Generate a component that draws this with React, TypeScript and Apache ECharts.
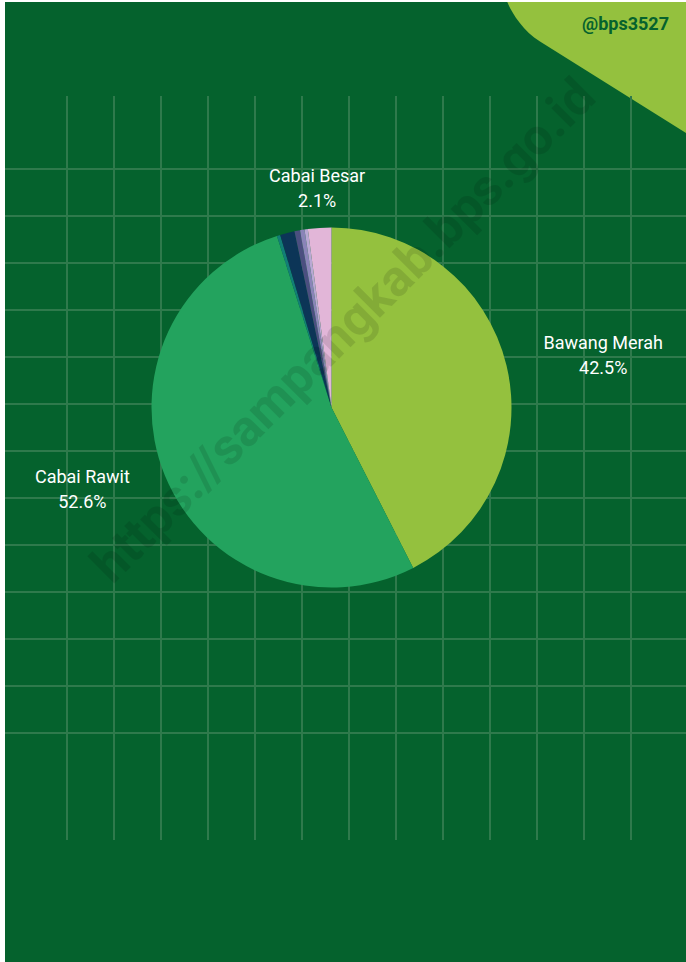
import React, { useEffect, useRef } from 'react';
import * as echarts from 'echarts';

// ---- data ----
const categories = ['Bawang Merah', 'Cabai Rawit', 'Kacang Panjang', 'Terung', 'Tomat', 'Kangkung', 'Bayam', 'Cabai Besar'];
const values = [42.5, 52.6, 0.3, 1.3, 0.5, 0.4, 0.3, 2.1];
const labeledCategories = ['Bawang Merah', 'Cabai Rawit', 'Cabai Besar'];
const gridColumnTicks = [0, 1, 2, 3, 4, 5, 6, 7, 8, 9, 10, 11, 12];
const gridRowTicks = [0, 1, 2, 3, 4, 5, 6, 7, 8, 9, 10, 11, 12];
const handle = '@bps3527';
const watermark = 'https://sampangkab.bps.go.id';

// ---- styles ----
const sliceColors = ['#94c13e', '#23a35e', '#127e77', '#0c3557', '#4b4f80', '#8a84b8', '#b9a8d4', '#e2b6d8'];
const BG = '#05622d';
const LINE = '#2f7a4c';
const W = 681;
const H = 960;
const CX = 326.5;
const CY = 405.5;
const R = 180;
const LABEL_GAP = 38;

const cornerPath = 'M 502.3 0 C 506.3 10 518 29 535 39.5 L 681 131 L 681 0 Z';
echarts.graphic.registerShape('corner', echarts.graphic.extendPath(cornerPath, {}) as any);

export default function App() {
  const ref = useRef<HTMLDivElement>(null);

  useEffect(() => {
    if (!ref.current) return;
    const chart = echarts.init(ref.current, undefined, { renderer: 'svg' });
    const total = values.reduce((a, b) => a + b, 0);

    const data = categories.map((name, i) => ({
      name,
      value: values[i],
      itemStyle: { color: sliceColors[i] },
      label: { show: labeledCategories.includes(name) },
    }));

    const option: any = {
      animation: false,
      backgroundColor: BG,
      grid: [
        { left: 62, right: W - 626, top: 94, bottom: H - 838 },
        { left: 0, right: 0, top: 167, bottom: H - 731 },
      ],
      xAxis: [
        {
          gridIndex: 0,
          type: 'value',
          min: gridColumnTicks[0],
          max: gridColumnTicks[gridColumnTicks.length - 1],
          interval: 1,
          axisLine: { show: false },
          axisTick: { show: false },
          axisLabel: { show: false },
          splitLine: { show: true, lineStyle: { color: LINE, width: 2 } },
        },
        { gridIndex: 1, type: 'value', show: false, min: 0, max: 1 },
      ],
      yAxis: [
        { gridIndex: 0, type: 'value', show: false, min: 0, max: 1 },
        {
          gridIndex: 1,
          type: 'value',
          min: gridRowTicks[0],
          max: gridRowTicks[gridRowTicks.length - 1],
          interval: 1,
          axisLine: { show: false },
          axisTick: { show: false },
          axisLabel: { show: false },
          splitLine: { show: true, lineStyle: { color: LINE, width: 2 } },
        },
      ],
      graphic: [
        {
          type: 'corner',
          x: 0,
          y: 0,
          scaleX: 1,
          scaleY: 1,
          z: 0,
          style: { fill: '#94c13e' },
        },
        {
          type: 'text',
          x: 664,
          y: 21,
          z: 10,
          style: {
            text: handle,
            fill: BG,
            font: 'bold 18px Roboto',
            align: 'right',
            textAlign: 'right',
            verticalAlign: 'middle',
            textVerticalAlign: 'middle',
          },
        },
        {
          type: 'text',
          x: 338,
          y: 328,
          rotation: Math.PI / 4,
          z: 100,
          silent: true,
          style: {
            text: watermark,
            fill: 'rgba(0,0,0,0.11)',
            font: 'bold 51px Roboto',
            align: 'center',
            textAlign: 'center',
            verticalAlign: 'middle',
            textVerticalAlign: 'middle',
          },
        },
      ],
      series: [
        {
          type: 'pie',
          center: [CX, CY],
          radius: R,
          startAngle: 90,
          clockwise: true,
          avoidLabelOverlap: false,
          z: 5,
          itemStyle: { borderWidth: 0 },
          label: {
            show: true,
            position: 'outside',
            formatter: (p: any) => `{n|${p.name}}\n{n|${Number(p.percent).toFixed(1)}%}`,
            rich: {
              n: { color: '#ffffff', fontSize: 18, fontFamily: 'Roboto', lineHeight: 25, align: 'center' },
            },
          },
          labelLine: { show: false },
          labelLayout: (p: any) => {
            const i = p.dataIndex;
            let before = 0;
            for (let k = 0; k < i; k++) before += values[k];
            const mid = ((before + values[i] / 2) / total) * Math.PI * 2;
            const sx = Math.sin(mid);
            const sy = -Math.cos(mid);
            return {
              x: CX + (R + LABEL_GAP) * sx,
              y: CY + (R + LABEL_GAP) * sy - 1.5,
              align: Math.abs(sx) < 0.3 ? 'center' : sx > 0 ? 'left' : 'right',
              verticalAlign: 'middle',
            };
          },
          emphasis: { disabled: true },
          data,
        },
      ],
    };

    chart.setOption(option);
    return () => chart.dispose();
  }, []);

  return (
    <div
      ref={ref}
      style={{ position: 'absolute', left: 5, top: 2, width: W, height: H }}
    />
  );
}
